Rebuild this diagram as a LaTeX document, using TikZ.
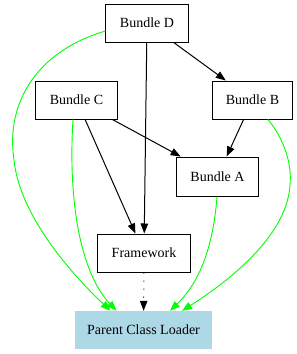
\documentclass[tikz,border=0pt]{standalone}
\usepackage{fontspec}
\setmainfont{Liberation Serif}
\usetikzlibrary{arrows.meta,calc}
\definecolor{gvgreen}{RGB}{0,255,0}
\definecolor{gvblue}{RGB}{173,216,230}
\begin{document}
\begin{tikzpicture}[x=1bp,y=-1bp,
  box/.style={draw=black, line width=1bp, minimum width=#1, minimum height=38bp, inner sep=0pt,
    font=\fontsize{14bp}{16bp}\selectfont},
  loader/.style={fill=gvblue, minimum width=137bp, minimum height=38bp, inner sep=0pt,
    font=\fontsize{14bp}{16bp}\selectfont},
  edge/.style={draw=black, line width=1bp, -{Triangle[length=10bp,width=7.5bp]}},
  dottededge/.style={edge, dash pattern=on 1bp off 7bp},
  green edge/.style={draw=gvgreen, line width=0.9bp, -{Triangle[length=10bp,width=7.5bp]}, fill=none}
]
\fill[white] (0,0) rectangle (297,354);
\useasboundingbox (0,0) rectangle (297,354);

\node[box=82bp] (D) at (147,23) {Bundle D};
\node[box=81bp] (C) at (76.5,100) {Bundle C};
\node[box=79bp] (B) at (252.5,100) {Bundle B};
\node[box=81bp, minimum height=39bp] (A) at (217.5,176.5) {Bundle A};
\node[box=92bp] (F) at (144,253) {Framework};
\node[loader] (P) at (143.5,330) {Parent Class Loader};

\draw[edge] (D) -- (B);
\draw[edge] (D) -- (F);
\draw[edge] (C) -- (F);
\draw[edge] (C) -- (A);
\draw[edge] (B) -- (A);
\draw[dottededge] (F) -- (P);

\draw[green edge] ($(D.west)+(0,8)$) .. controls (40,50) and (5,100) .. (14,160)
  .. controls (20,220) and (80,282) .. ($(P.north)+(-33,0)$);
\draw[green edge] ($(C.south)+(-3.5,0)$) .. controls (68,200) and (80,272) .. ($(P.north)+(-27,0)$);
\draw[green edge] ($(A.south)+(-0.5,0)$) .. controls (213,250) and (198,284) .. ($(P.north)+(26.5,0)$);
\draw[green edge] ($(B.south)+(15.5,0)$) .. controls (285,140) and (292,165) .. (290,185)
  .. controls (287,240) and (218,288) .. ($(P.north)+(38.5,0)$);
\end{tikzpicture}
\end{document}
